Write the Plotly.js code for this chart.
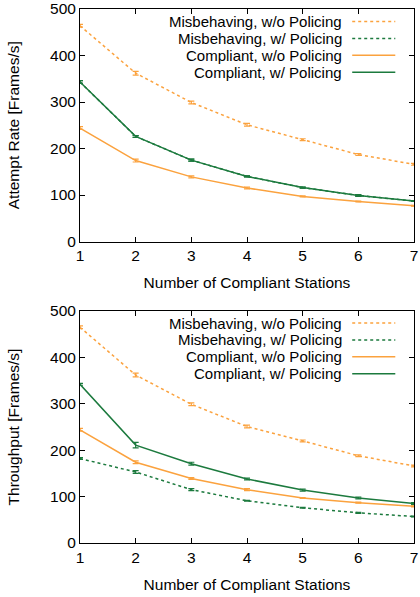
<!DOCTYPE html>
<html><head><meta charset="utf-8">
<script src="https://cdn.plot.ly/plotly-3.0.1.min.js"></script>
<style>html,body{margin:0;padding:0;background:#fff}#g{width:420px;height:597px}</style>
</head><body><div id="g"></div>
<script>
const stations = [1, 2, 3, 4, 5, 6, 7];
const seriesNames = ["Misbehaving, w/o Policing", "Misbehaving, w/ Policing", "Compliant, w/o Policing", "Compliant, w/ Policing"];

// Attempt rate [Frames/s]
const attMisNoPol = [464, 362, 299, 251, 219, 187, 166];
const attMisNoPolErr = [3, 4, 3, 3, 2, 2, 2];
const attMisPol = [343, 226, 175, 140, 116, 99, 87];
const attMisPolErr = [3, 2, 2, 1, 1, 2, 1];
const attCompNoPol = [244, 174, 139, 115, 97, 86, 77];
const attCompNoPolErr = [3, 3, 2, 2, 1, 1, 1];
const attCompPol = [343, 226, 175, 140, 116, 99, 87];
const attCompPolErr = [3, 2, 2, 1, 1, 2, 1];

// Throughput [Frames/s]
const thrMisNoPol = [465, 362, 299, 251, 220, 188, 166];
const thrMisNoPolErr = [3, 4, 3, 3, 2, 2, 2];
const thrMisPol = [182, 153, 115, 91, 76, 65, 57];
const thrMisPolErr = [2, 3, 2, 1, 1, 1, 1];
const thrCompNoPol = [244, 174, 139, 115, 97, 87, 79];
const thrCompNoPolErr = [3, 3, 2, 2, 1, 1, 1];
const thrCompPol = [342, 211, 171, 138, 114, 97, 85];
const thrCompPolErr = [2, 6, 3, 2, 2, 2, 2];

const yTicks = [0, 100, 200, 300, 400, 500];

const ORANGE = '#fba23e';
const GREEN = '#1c7a3e';
const styles = [
  {color: ORANGE, dash: 'dot'},
  {color: GREEN, dash: 'dot'},
  {color: ORANGE, dash: 'solid'},
  {color: GREEN, dash: 'solid'}
];

function tr(y, e, i, xa, ya) {
  return {
    x: stations, y: y, xaxis: xa, yaxis: ya, type: 'scatter', mode: 'lines',
    name: seriesNames[i], showlegend: false,
    line: {color: styles[i].color, dash: styles[i].dash, width: 1.5},
    error_y: {type: 'data', array: e, visible: true, color: styles[i].color, thickness: 1.2, width: 3}
  };
}

const data = [
  tr(attMisNoPol, attMisNoPolErr, 0, 'x', 'y'),
  tr(attMisPol, attMisPolErr, 1, 'x', 'y'),
  tr(attCompNoPol, attCompNoPolErr, 2, 'x', 'y'),
  tr(attCompPol, attCompPolErr, 3, 'x', 'y'),
  tr(thrMisNoPol, thrMisNoPolErr, 0, 'x2', 'y2'),
  tr(thrMisPol, thrMisPolErr, 1, 'x2', 'y2'),
  tr(thrCompNoPol, thrCompNoPolErr, 2, 'x2', 'y2'),
  tr(thrCompPol, thrCompPolErr, 3, 'x2', 'y2')
];

const FONT = 'Liberation Sans, Arial, sans-serif';
const FS = 15.5;
const LFS = 15;
function xax(anchor) {
  return {
    anchor: anchor, range: [1, 7], tickvals: stations, ticktext: stations.map(String),
    showgrid: false, zeroline: false, showline: true, linecolor: '#000', linewidth: 1,
    mirror: 'allticks', ticks: 'inside', ticklen: 5, tickcolor: '#000',
    tickfont: {family: FONT, size: FS, color: '#000'},
    title: {text: 'Number of Compliant Stations', font: {family: FONT, size: FS, color: '#000'}, standoff: 14}
  };
}
function yax(anchor, dom, title) {
  return {
    anchor: anchor, domain: dom, range: [0, 500], tickvals: yTicks,
    showgrid: false, zeroline: false, showline: true, linecolor: '#000', linewidth: 1,
    mirror: 'allticks', ticks: 'inside', ticklen: 5, tickcolor: '#000',
    tickfont: {family: FONT, size: FS, color: '#000'},
    title: {text: title, font: {family: FONT, size: FS, color: '#000'}, standoff: 26}
  };
}

const M = {l: 80, r: 6, t: 9, b: 54};
const H = 597 - M.t - M.b;
function py(pix) { return 1 - (pix - M.t) / H; }
const topDom = [py(241.5), 1];
const botDom = [0, py(311)];

const annotations = [];
const shapes = [];
const rowOffsets = [12.0, 28.9, 45.8, 62.7];
[9.5, 311].forEach((top) => {
  seriesNames.forEach((n, i) => {
    const y = py(top + rowOffsets[i]);
    annotations.push({xref: 'paper', yref: 'paper', x: 0.786, y: y, text: n, showarrow: false,
      borderpad: 0, xanchor: 'right', yanchor: 'middle', font: {family: FONT, size: LFS, color: '#000'}});
    shapes.push({type: 'line', xref: 'paper', yref: 'paper', x0: 0.815, x1: 0.944, y0: y, y1: y,
      line: {color: styles[i].color, dash: styles[i].dash, width: 1.5}});
  });
});

const layout = {
  width: 420, height: 597, margin: M, paper_bgcolor: '#fff', plot_bgcolor: '#fff',
  showlegend: false,
  xaxis: xax('y'), yaxis: yax('x', topDom, 'Attempt Rate [Frames/s]'),
  xaxis2: xax('y2'), yaxis2: yax('x2', botDom, 'Throughput [Frames/s]'),
  annotations: annotations, shapes: shapes
};
Plotly.newPlot('g', data, layout, {displayModeBar: false, staticPlot: true});
</script></body></html>
